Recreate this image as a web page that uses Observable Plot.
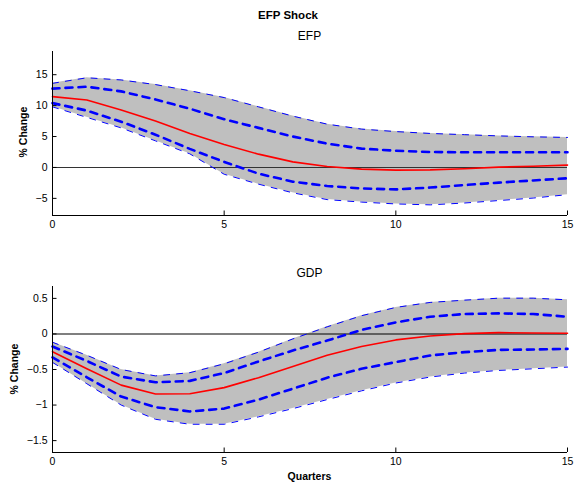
<!DOCTYPE html>
<html>
<head>
<meta charset="utf-8">
<script src="https://cdn.jsdelivr.net/npm/d3@7"></script>
<script src="https://cdn.jsdelivr.net/npm/@observablehq/plot@0.6"></script>
<style>
  body { margin: 0; background: #fff; }
  #root { position: relative; width: 576px; height: 483px; font-family: "Liberation Sans", Arial, Helvetica, sans-serif; color: #000; overflow: hidden; }
  .abs { position: absolute; white-space: nowrap; }
  .panel { position: absolute; left: 0; }
</style>
</head>
<body>
<div id="root"></div>
<script>
// ---------- data ----------
const quarters = [0, 1, 2, 3, 4, 5, 6, 7, 8, 9, 10, 11, 12, 13, 14, 15];

const efpMedian     = [11.45, 10.9, 9.3, 7.5, 5.5, 3.7, 2.15, 0.9, 0.15, -0.27, -0.43, -0.4, -0.2, 0.05, 0.2, 0.38];
const efpUpperOuter = [13.6, 14.5, 14.15, 13.4, 12.4, 11.3, 9.8, 8.3, 7.0, 6.2, 5.8, 5.5, 5.3, 5.1, 4.95, 4.85];
const efpUpperInner = [12.75, 13.05, 12.3, 11.0, 9.5, 7.8, 6.4, 5.0, 3.85, 3.05, 2.7, 2.5, 2.45, 2.45, 2.45, 2.45];
const efpLowerInner = [10.4, 9.2, 7.4, 5.3, 3.0, 0.9, -1.0, -2.3, -3.0, -3.4, -3.55, -3.25, -2.85, -2.45, -2.1, -1.75];
const efpLowerOuter = [9.8, 8.1, 6.4, 4.3, 2.2, -1.1, -2.7, -4.1, -5.2, -5.6, -5.9, -6.05, -5.75, -5.35, -4.95, -4.4];

const gdpMedian     = [-0.25, -0.49, -0.72, -0.845, -0.84, -0.755, -0.615, -0.457, -0.30, -0.177, -0.084, -0.028, 0.005, 0.019, 0.014, 0.01];
const gdpUpperOuter = [-0.117, -0.30, -0.50, -0.59, -0.545, -0.42, -0.256, -0.07, 0.10, 0.256, 0.373, 0.443, 0.475, 0.503, 0.503, 0.48];
const gdpUpperInner = [-0.177, -0.38, -0.60, -0.68, -0.66, -0.55, -0.387, -0.233, -0.093, 0.056, 0.163, 0.242, 0.28, 0.289, 0.28, 0.242];
const gdpLowerInner = [-0.33, -0.61, -0.88, -1.03, -1.09, -1.05, -0.923, -0.77, -0.615, -0.49, -0.396, -0.303, -0.256, -0.224, -0.219, -0.21];
const gdpLowerOuter = [-0.40, -0.70, -1.0, -1.2, -1.27, -1.27, -1.166, -1.05, -0.923, -0.80, -0.69, -0.606, -0.55, -0.513, -0.49, -0.466];

const xTicks = [0, 5, 10, 15];
const efpYTicks = [-5, 0, 5, 10, 15];
const gdpYTicks = [-1.5, -1, -0.5, 0, 0.5];
const efpYDomain = [-7.77, 18.75];
const gdpYDomain = [-1.667, 0.667];

const titleText = "EFP Shock";
const panelTitles = ["EFP", "GDP"];
const yLabelText = "% Change";
const xLabelText = "Quarters";

// ---------- helpers ----------
const fmt = d => String(d).replace("-", "\u2212");

function table(med, uo, ui, li, lo) {
  return quarters.map((q, i) => ({q, med: med[i], uo: uo[i], ui: ui[i], li: li[i], lo: lo[i]}));
}

function panel(data, yDomain, yTicks, height, mt, mb, zeroColor) {
  return Plot.plot({
    width: 576,
    height,
    marginLeft: 52,
    marginRight: 9,
    marginTop: mt,
    marginBottom: mb,
    style: {fontFamily: "'Liberation Sans', Arial, Helvetica, sans-serif", fontSize: "10.5px", color: "#000", background: "transparent"},
    x: {domain: [0, 15]},
    y: {domain: yDomain},
    marks: [
      Plot.areaY(data, {x: "q", y1: "lo", y2: "uo", fill: "#bfbfbf"}),
      Plot.ruleY([0], {stroke: zeroColor, strokeWidth: 1.1}),
      Plot.lineY(data, {x: "q", y: "uo", stroke: "#0000ff", strokeWidth: 1, strokeDasharray: "6,7"}),
      Plot.lineY(data, {x: "q", y: "lo", stroke: "#0000ff", strokeWidth: 1, strokeDasharray: "6,7"}),
      Plot.lineY(data, {x: "q", y: "ui", stroke: "#0000ff", strokeWidth: 2.6, strokeDasharray: "7,6"}),
      Plot.lineY(data, {x: "q", y: "li", stroke: "#0000ff", strokeWidth: 2.6, strokeDasharray: "7,6"}),
      Plot.lineY(data, {x: "q", y: "med", stroke: "#ff0000", strokeWidth: 1.6}),
      // axis lines (left & bottom only)
      Plot.ruleX([0], {stroke: "#000", strokeWidth: 1}),
      Plot.ruleY([yDomain[0]], {stroke: "#000", strokeWidth: 1}),
      // labels
      Plot.axisY({ticks: yTicks, tickFormat: fmt, tickSize: 0, tickPadding: 5, label: null}),
      Plot.axisX({ticks: xTicks, tickFormat: fmt, tickSize: 0, tickPadding: 5, label: null}),
      // inward ticks
      Plot.axisY({ticks: yTicks, text: null, tickSize: 4.5, dx: 4.5, label: null}),
      Plot.axisX({ticks: xTicks, text: null, tickSize: 4.5, dy: -4.5, label: null})
    ]
  });
}

// ---------- layout ----------
const root = document.getElementById("root");

function addText(txt, css) {
  const d = document.createElement("div");
  d.className = "abs";
  d.textContent = txt;
  Object.assign(d.style, css);
  root.appendChild(d);
  return d;
}

const p1 = panel(table(efpMedian, efpUpperOuter, efpUpperInner, efpLowerInner, efpLowerOuter),
                 efpYDomain, efpYTicks, 240, 51, 25, "#333");
p1.classList.add("panel");
p1.style.top = "0px";
root.appendChild(p1);

const p2 = panel(table(gdpMedian, gdpUpperOuter, gdpUpperInner, gdpLowerInner, gdpLowerOuter),
                 gdpYDomain, gdpYTicks, 243, 46, 31, "#000");
p2.classList.add("panel");
p2.style.top = "240px";
root.appendChild(p2);

// titles
addText(titleText, {left: "0px", width: "576px", textAlign: "center", top: "8px", fontSize: "11.5px", fontWeight: "bold", lineHeight: "14px"});
addText(panelTitles[0], {left: "52px", width: "515px", textAlign: "center", top: "29px", fontSize: "12px", lineHeight: "14px"});
addText(panelTitles[1], {left: "52px", width: "515px", textAlign: "center", top: "266px", fontSize: "12px", lineHeight: "14px"});
addText(xLabelText, {left: "52px", width: "515px", textAlign: "center", top: "470px", fontSize: "10.5px", fontWeight: "bold", lineHeight: "12px"});

// y labels (rotated)
function yLabel(cx, cy) {
  const d = addText(yLabelText, {fontSize: "10.5px", fontWeight: "bold", lineHeight: "12px", width: "80px", textAlign: "center"});
  d.style.left = (cx - 40) + "px";
  d.style.top = (cy - 6) + "px";
  d.style.transform = "rotate(-90deg)";
}
yLabel(23, 132);
yLabel(14, 369);
</script>
</body>
</html>
